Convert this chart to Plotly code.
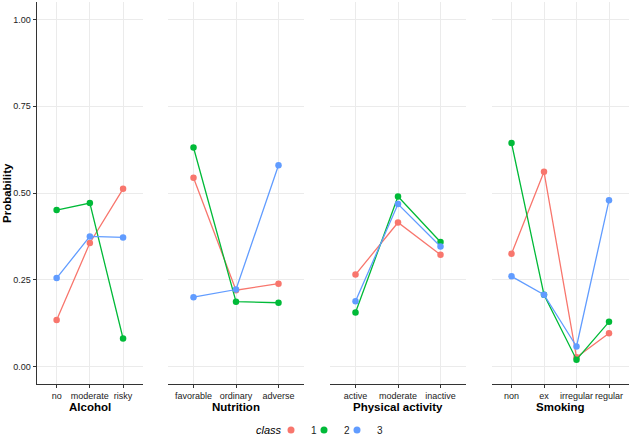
import plotly.graph_objects as go

# factor levels per panel
facets = ["Alcohol", "Nutrition", "Physical activity", "Smoking"]
levels = {
    "Alcohol": ["no", "moderate", "risky"],
    "Nutrition": ["favorable", "ordinary", "adverse"],
    "Physical activity": ["active", "moderate", "inactive"],
    "Smoking": ["non", "ex", "irregular", "regular"],
}

# probabilities, per class
class_1 = {
    "Alcohol": [0.134, 0.356, 0.512],
    "Nutrition": [0.544, 0.220, 0.239],
    "Physical activity": [0.265, 0.415, 0.322],
    "Smoking": [0.325, 0.561, 0.027, 0.096],
}
class_2 = {
    "Alcohol": [0.451, 0.471, 0.081],
    "Nutrition": [0.631, 0.187, 0.184],
    "Physical activity": [0.156, 0.490, 0.359],
    "Smoking": [0.644, 0.207, 0.020, 0.129],
}
class_3 = {
    "Alcohol": [0.255, 0.375, 0.372],
    "Nutrition": [0.200, 0.222, 0.580],
    "Physical activity": [0.188, 0.468, 0.346],
    "Smoking": [0.260, 0.207, 0.058, 0.479],
}
class_names = ["1", "2", "3"]
class_data = [class_1, class_2, class_3]
colors = ["#F8766D", "#00BA38", "#619CFF"]

y_ticks = [0, 0.25, 0.5, 0.75, 1.0]
y_labels = ["0.00", "0.25", "0.50", "0.75", "1.00"]

W, H = 630, 435


def fx(px):
    return px / W


def fy(py):
    return (H - py) / H


# panel pixel extents (left, right) and vertical (top, bottom)
panel_px = [(36.7, 143), (168, 304), (330, 466), (492, 628.5)]
top_px, bottom_px = 2, 384
y_dom = [fy(bottom_px), fy(top_px)]

FONT = "Liberation Sans, Arial, sans-serif"
AXIS_COL = "#333333"
GRID_COL = "#EBEBEB"

fig = go.Figure()
layout = {}

for i, facet in enumerate(facets):
    n = "" if i == 0 else str(i + 1)
    xa, ya = "x" + n, "y" + n
    cats = levels[facet]
    for cname, cdata, col in zip(class_names, class_data, colors):
        fig.add_trace(go.Scatter(
            x=cats, y=cdata[facet],
            mode="lines+markers",
            line=dict(color=col, width=1.3),
            marker=dict(color=col, size=6.5),
            showlegend=False,
            xaxis=xa, yaxis=ya,
            hoverinfo="skip",
        ))
    l, r = panel_px[i]
    layout["xaxis" + n] = dict(
        domain=[fx(l), fx(r)],
        anchor=ya,
        type="category",
        categoryorder="array", categoryarray=cats,
        range=[-0.6, len(cats) - 0.4],
        tickangle=0,
        showline=True, linecolor=AXIS_COL, linewidth=1,
        ticks="outside", ticklen=3, tickcolor=AXIS_COL, tickwidth=1,
        showgrid=True, gridcolor=GRID_COL, gridwidth=1,
        tickfont=dict(family=FONT, size=9, color="#222222"),
        zeroline=False, automargin=False, fixedrange=True,
    )
    layout["yaxis" + n] = dict(
        domain=y_dom,
        anchor=xa,
        range=[-0.05, 1.05],
        tickvals=y_ticks, ticktext=y_labels,
        showticklabels=(i == 0),
        showline=(i == 0), linecolor=AXIS_COL, linewidth=1,
        ticks="outside" if i == 0 else "", ticklen=3, tickcolor=AXIS_COL,
        showgrid=True, gridcolor=GRID_COL, gridwidth=1,
        tickfont=dict(family=FONT, size=9, color="#222222"),
        zeroline=False, automargin=False, fixedrange=True,
    )

# legend-only entries (points only, like the ggplot key), one small legend each
legend_ids = ["legend", "legend2", "legend3"]
legend_x_px = [271, 304, 337]
for cname, col, lid in zip(class_names, colors, legend_ids):
    fig.add_trace(go.Scatter(
        x=[None], y=[None], mode="markers", name=cname,
        marker=dict(color=col, size=7),
        xaxis="x", yaxis="y", legend=lid,
    ))
for lid, lx in zip(legend_ids, legend_x_px):
    layout[lid] = dict(
        orientation="h",
        x=fx(lx), xanchor="left",
        y=fy(430), yanchor="middle",
        font=dict(family=FONT, size=10, color="#222222"),
        itemwidth=30,
        bgcolor="rgba(0,0,0,0)",
    )

annotations = []
for i, facet in enumerate(facets):
    l, r = panel_px[i]
    annotations.append(dict(
        text="<b>" + facet + "</b>", xref="paper", yref="paper",
        x=fx((l + r) / 2), y=fy(407),
        xanchor="center", yanchor="middle", showarrow=False,
        font=dict(family=FONT, size=11.5, color="black"),
    ))
annotations.append(dict(
    text="<b>Probability</b>", xref="paper", yref="paper",
    x=fx(7), y=fy(193), textangle=-90,
    xanchor="center", yanchor="middle", showarrow=False,
    font=dict(family=FONT, size=11.5, color="black"),
))
# legend title
annotations.append(dict(
    text="<i>class</i>", xref="paper", yref="paper",
    x=fx(284), y=fy(430),
    xanchor="right", yanchor="middle", showarrow=False,
    font=dict(family=FONT, size=11, color="black"),
))

fig.update_layout(
    width=W, height=H,
    margin=dict(l=0, r=0, t=0, b=0, autoexpand=False),
    plot_bgcolor="white", paper_bgcolor="white",
    font=dict(family=FONT, size=10, color="#222222"),
    annotations=annotations,
    **layout,
)

# drop the browser's default 8px body margin so the figure fills the window
fig.write_html(
    "out.html",
    config={"displayModeBar": False},
    post_script="document.body.style.margin='0';document.body.style.overflow='hidden';",
)
